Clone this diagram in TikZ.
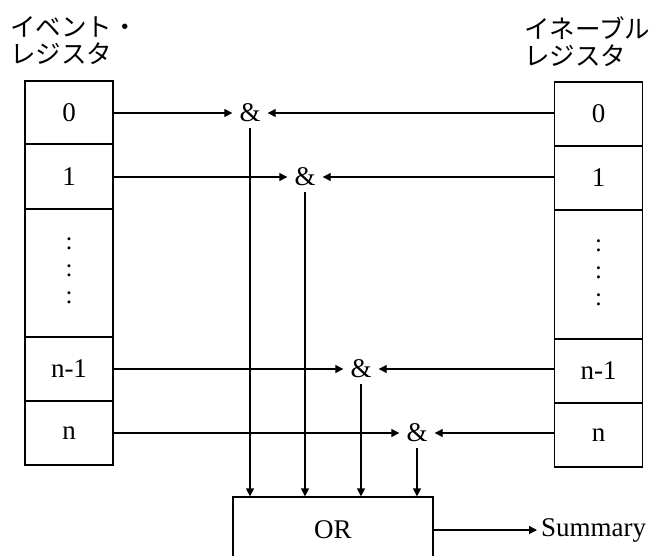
\documentclass[tikz,border=0pt]{standalone}
\usepackage{fontspec}
\setmainfont{Liberation Serif}
\newfontfamily\jpfont{Noto Sans CJK JP}
\usetikzlibrary{arrows.meta}
\begin{document}
\begin{tikzpicture}[x=1pt,y=-1pt,
  every node/.style={font=\fontsize{27}{27}\selectfont},
  cell/.style={draw, line width=1.3pt, minimum width=88pt, inner sep=0pt},
  gate/.style={minimum width=35pt, minimum height=30pt, inner sep=0pt},
  wire/.style={line width=1.3pt},
  arr/.style={wire, -{Triangle[length=8pt,width=8pt]}},
  jplabel/.style={font=\jpfont\fontsize{25.5}{27}\selectfont, align=left, anchor=north west, inner sep=0pt},
  dots/.style={align=center, font=\fontsize{25}{27}\selectfont}
]
\useasboundingbox (0,0) rectangle (656,556);
\clip (0,0) rectangle (656,556);

% labels
\node[jplabel] (EL) at (10,16) {イベント・\\レジスタ};
\node[jplabel] (NL) at (524,16) {イネーブル\\レジスタ};

% event register
\node[cell, minimum height=63pt] (L0) at (69,112.5) {0};
\node[cell, minimum height=65pt] (L1) at (69,176.5) {1};
\node[cell, minimum height=128pt] (Ld) at (69,273) {};
\node[dots] (Ldt) at (69,271) {:\\:\\:};
\node[cell, minimum height=64pt] (Ln1) at (69,369) {n-1};
\node[cell, minimum height=64pt] (Ln) at (69,433) {n};

% enable register
\node[cell, minimum height=64pt] (R0) at (598.5,114) {0};
\node[cell, minimum height=64pt] (R1) at (598.5,178) {1};
\node[cell, minimum height=129pt] (Rd) at (598.5,274.5) {};
\node[dots] (Rdt) at (598.5,272.5) {:\\:\\:};
\node[cell, minimum height=64pt] (Rn1) at (598.5,371) {n-1};
\node[cell, minimum height=64pt] (Rn) at (598.5,435) {n};

% gates
\node[gate] (A0) at (250,113) {\&};
\node[gate] (A1) at (305,177) {\&};
\node[gate] (A2) at (361,369) {\&};
\node[gate] (A3) at (417,433) {\&};

% OR
\node[cell, minimum width=200pt, minimum height=66pt] (OR) at (333,530) {OR};
\node[anchor=west, inner sep=4pt] (S) at (537,530) {Summary};

% connectors
\draw[arr] (A0.west -| L0.east) -- (A0.west);
\draw[arr] (A0.east -| R0.west) -- (A0.east);
\draw[arr] (A1.west -| L1.east) -- (A1.west);
\draw[arr] (A1.east -| R1.west) -- (A1.east);
\draw[arr] (A2.west -| Ln1.east) -- (A2.west);
\draw[arr] (A2.east -| Rn1.west) -- (A2.east);
\draw[arr] (A3.west -| Ln.east) -- (A3.west);
\draw[arr] (A3.east -| Rn.west) -- (A3.east);

\draw[arr] (A0.south) -- (A0.south |- OR.north);
\draw[arr] (A1.south) -- (A1.south |- OR.north);
\draw[arr] (A2.south) -- (A2.south |- OR.north);
\draw[arr] (A3.south) -- (A3.south |- OR.north);

\draw[arr] (OR.east) -- (S.west);
\end{tikzpicture}
\end{document}
